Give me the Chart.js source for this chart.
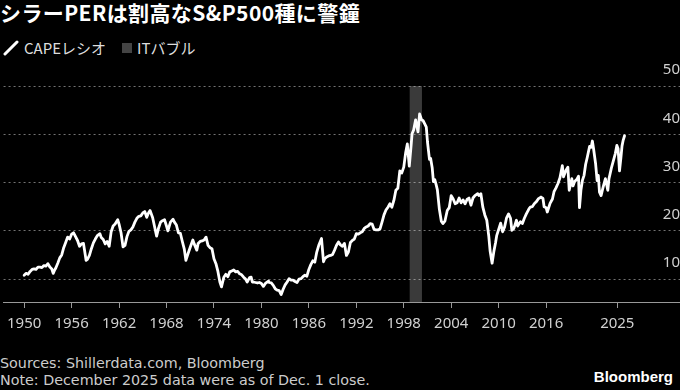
<!DOCTYPE html>
<html>
<head>
<meta charset="utf-8">
<script src="https://cdn.jsdelivr.net/npm/chart.js@4.4.1/dist/chart.umd.min.js"></script>
<style>
  html, body { margin: 0; padding: 0; background: #000; }
  body { width: 680px; height: 390px; overflow: hidden; position: relative; font-family: "Noto Sans CJK JP", "Noto Sans", sans-serif; color: #ddd; }
  #title { position: absolute; left: 0; top: 0px; font-size: 21px; line-height: 24px; letter-spacing: 0.4px; font-weight: bold; color: #fff; white-space: nowrap; }
  #legend { position: absolute; left: 3px; top: 37px; font-size: 15px; color: #ddd; white-space: nowrap; display: flex; align-items: center; }
  .sq { display: inline-block; width: 10px; height: 10px; background: #444; margin-left: 16px; margin-right: 5px; }
  #wrap { position: absolute; left: 0; top: 60px; width: 680px; height: 280px; }
  .foot { position: absolute; left: 0; font-size: 14.3px; line-height: 16px; color: #ccc; white-space: nowrap; font-family: "DejaVu Sans", sans-serif; }
  #logo { position: absolute; right: 7px; top: 368px; font-size: 15px; font-weight: bold; color: #fff; font-family: "Liberation Sans", "Noto Sans", sans-serif; }
</style>
</head>
<body>
<div id="title">シラーPERは割高なS&amp;P500種に警鐘</div>
<div id="legend">
  <svg width="16" height="16" style="margin-right:5px"><line x1="2" y1="14" x2="14" y2="2" stroke="#fff" stroke-width="3" stroke-linecap="round"/></svg>
  <span>CAPEレシオ</span>
  <span class="sq"></span>
  <span>ITバブル</span>
</div>
<div id="wrap"><canvas id="c" width="680" height="280"></canvas></div>
<div class="foot" style="top:355px">Sources: Shillerdata.com, Bloomberg</div>
<div class="foot" style="top:372px">Note: December 2025 data were as of Dec. 1 close.</div>
<div id="logo">Bloomberg</div>
<script>
const years = [
1950.00,1950.25,1950.50,1950.75,1951.00,1951.25,1951.50,1951.75,1952.00,1952.25,1952.50,1952.75,
1953.00,1953.25,1953.50,1953.67,1953.83,1954.00,1954.25,1954.50,1954.75,1955.00,1955.25,1955.50,1955.75,
1956.00,1956.25,1956.50,1956.75,1957.00,1957.25,1957.50,1957.83,1958.00,1958.25,1958.50,1958.75,
1959.00,1959.25,1959.58,1959.75,1960.00,1960.25,1960.50,1960.75,1961.00,1961.25,1961.50,1961.83,
1962.00,1962.25,1962.50,1962.75,1963.00,1963.25,1963.50,1963.75,1964.00,1964.25,1964.50,1964.75,
1965.00,1965.25,1965.50,1965.75,1965.92,1966.25,1966.50,1966.75,1967.00,1967.25,1967.50,1967.75,
1968.00,1968.17,1968.50,1968.83,1969.00,1969.25,1969.50,1969.75,1970.00,1970.25,1970.45,1970.75,
1971.00,1971.33,1971.50,1971.83,1972.00,1972.25,1972.50,1972.75,1973.00,1973.25,1973.50,1973.75,
1974.00,1974.25,1974.50,1974.75,1974.95,1975.25,1975.50,1975.75,1976.00,1976.25,1976.50,1976.75,
1977.00,1977.25,1977.50,1977.75,1978.00,1978.20,1978.50,1978.70,1978.85,1979.00,1979.25,1979.50,1979.75,
1980.00,1980.25,1980.50,1980.90,1981.00,1981.25,1981.50,1981.75,1982.00,1982.25,1982.50,1982.75,
1983.00,1983.25,1983.50,1983.75,1984.00,1984.25,1984.50,1984.75,1985.00,1985.25,1985.50,1985.75,
1986.00,1986.25,1986.50,1986.75,1987.00,1987.25,1987.60,1987.85,1988.00,1988.25,1988.50,1988.75,
1989.00,1989.25,1989.50,1989.75,1990.00,1990.25,1990.50,1990.75,1991.00,1991.25,1991.50,1991.75,
1992.00,1992.25,1992.50,1992.75,1993.00,1993.25,1993.50,1993.75,1994.00,1994.25,1994.50,1994.75,
1995.00,1995.25,1995.50,1995.75,1996.00,1996.25,1996.50,1996.75,1997.00,1997.25,1997.50,1997.75,
1998.00,1998.25,1998.45,1998.70,1998.92,1999.05,1999.25,1999.50,1999.80,2000.00,2000.25,2000.45,2000.70,2000.85,
2001.00,2001.25,2001.40,2001.60,2001.75,2001.92,2002.10,2002.25,2002.50,2002.75,2002.95,2003.20,2003.50,2003.75,
2004.00,2004.25,2004.50,2004.75,2005.00,2005.25,2005.50,2005.75,2006.00,2006.25,2006.50,2006.75,
2007.00,2007.35,2007.50,2007.75,2008.00,2008.25,2008.50,2008.75,2008.92,2009.17,2009.40,2009.60,2009.75,
2010.00,2010.25,2010.50,2010.75,2011.00,2011.25,2011.50,2011.67,2011.92,2012.25,2012.40,2012.75,
2013.00,2013.25,2013.50,2013.85,2014.00,2014.25,2014.50,2014.75,2015.00,2015.35,2015.60,2015.75,
2016.00,2016.15,2016.50,2016.80,2017.00,2017.25,2017.50,2017.75,2018.05,2018.20,2018.50,2018.75,2018.92,
2019.25,2019.40,2019.60,2019.90,2020.10,2020.22,2020.40,2020.60,2020.80,2021.00,2021.20,2021.50,2021.70,2021.85,
2022.00,2022.25,2022.45,2022.60,2022.75,2022.95,2023.20,2023.50,2023.80,2023.95,2024.25,2024.50,2024.75,2024.95,
2025.10,2025.28,2025.45,2025.60,2025.75,2025.92
];
const cape = [
10.8,11.2,11.0,11.6,12.0,12.1,12.0,12.5,12.5,12.4,12.8,12.7,
13.2,12.5,12.1,11.2,11.8,12.3,13.3,14.4,15.0,16.5,17.6,18.7,18.3,
19.3,19.6,18.8,18.0,16.8,17.3,17.4,13.9,14.1,14.9,16.3,17.5,
18.3,19.0,19.4,18.6,18.2,17.3,17.8,16.8,19.8,21.0,21.4,22.3,
21.4,19.6,16.7,17.0,18.8,19.9,20.2,20.8,21.8,22.6,23.0,23.1,
23.7,24.0,22.8,23.8,24.2,22.7,20.8,18.9,20.6,21.8,22.1,22.3,
21.0,20.0,21.8,22.4,21.8,21.2,19.6,19.5,17.8,16.2,13.9,15.4,
16.6,18.1,17.3,16.0,17.4,17.8,17.9,18.1,18.7,17.0,16.5,16.3,
14.2,13.2,11.6,9.4,8.4,10.4,11.0,10.5,11.5,11.7,11.9,11.5,
11.6,11.1,10.9,10.4,10.0,9.4,10.3,10.4,9.4,9.4,9.3,9.2,9.3,
9.1,8.5,9.1,9.6,9.3,9.2,8.7,8.0,7.7,7.6,6.8,7.9,
8.8,9.4,10.1,9.8,9.8,9.5,9.3,10.0,10.1,10.5,10.8,10.6,
12.0,13.0,13.8,13.5,15.6,17.0,18.4,13.6,14.2,14.6,14.8,14.9,
15.1,16.0,17.0,17.7,17.1,16.8,17.4,14.9,15.6,17.6,18.0,18.3,
19.4,19.3,19.6,19.8,20.5,20.8,21.0,21.5,21.4,20.3,20.2,20.2,
20.4,21.8,23.3,24.3,24.9,25.6,24.9,26.3,28.4,28.8,32.4,32.0,
33.2,36.3,38.0,33.4,37.5,40.1,40.9,43.0,40.5,44.2,43.0,42.8,42.0,41.5,
38.4,34.8,35.0,33.0,30.2,30.6,29.5,28.5,24.5,22.0,21.5,22.0,24.2,24.8,
27.3,26.6,25.6,25.8,26.8,25.8,26.4,25.6,26.5,26.8,25.3,26.8,
27.3,27.7,27.3,27.7,24.9,23.3,22.2,18.9,15.8,13.3,15.8,17.5,19.0,
20.3,21.6,19.8,20.8,22.7,23.5,22.6,20.1,20.5,22.2,21.0,21.9,
21.5,22.6,23.5,24.6,24.9,25.0,25.6,26.0,26.6,27.0,26.7,25.0,
24.8,23.9,25.7,26.6,28.1,28.9,29.8,31.0,33.5,31.2,32.5,33.2,28.4,
30.8,29.3,30.2,30.7,31.3,24.8,28.4,30.5,31.5,33.8,35.2,37.5,37.3,38.6,
37.0,34.0,30.4,31.5,28.0,27.3,29.0,30.8,28.4,30.8,33.0,34.5,36.0,37.7,
37.0,32.4,35.0,37.6,38.8,39.7
];
const xTicks = [1950,1956,1962,1968,1974,1980,1986,1992,1998,2004,2010,2016,2025];
const yTicks = [10,20,30,40,50];
const itBubble = [1998.75, 2000.3];

const bandPlugin = {
  id: 'band',
  beforeDraw(chart) {
    const {ctx, scales: {x, y}} = chart;
    const x0 = x.getPixelForValue(itBubble[0]);
    const x1 = x.getPixelForValue(itBubble[1]);
    const top = y.getPixelForValue(yTicks[yTicks.length - 1]);
    ctx.save();
    ctx.fillStyle = '#3a3a3a';
    ctx.fillRect(x0, top, x1 - x0, y.bottom - top);
    ctx.restore();
  }
};

new Chart(document.getElementById('c'), {
  type: 'line',
  data: {
    datasets: [{
      data: years.map((v, i) => ({x: v, y: cape[i]})),
      borderColor: '#ffffff',
      borderWidth: 2.8,
      pointRadius: 0,
      tension: 0,
      borderJoinStyle: 'round',
      borderCapStyle: 'round'
    }]
  },
  options: {
    responsive: false,
    animation: false,
    layout: { padding: { top: 26, left: 0, right: 0, bottom: 0 } },
    plugins: { legend: { display: false }, tooltip: { enabled: false } },
    scales: {
      x: {
        type: 'linear',
        min: 1947.396,
        max: 2032.93,
        afterBuildTicks: s => { s.ticks = xTicks.map(v => ({value: v})); },
        afterFit: s => { s.height = 38; },
        ticks: {
          color: '#d0d0d0',
          font: { family: '"Noto Sans", sans-serif', size: 15 },
          padding: 7,
          maxRotation: 0,
          autoSkip: false,
          callback: v => String(v)
        },
        grid: { drawOnChartArea: false, drawTicks: true, tickLength: 6, color: '#999', tickColor: '#999' },
        border: { display: true, color: '#999', width: 1 }
      },
      y: {
        position: 'right',
        min: 5.26,
        max: 50,
        afterBuildTicks: s => { s.ticks = yTicks.map(v => ({value: v})); },
        afterFit: s => { s.width = 0; },
        ticks: {
          mirror: true,
          labelOffset: -16,
          padding: 0,
          color: '#d0d0d0',
          font: { family: '"Noto Sans", sans-serif', size: 15 }
        },
        grid: { color: 'rgba(255,255,255,0.45)', lineWidth: 1, drawTicks: false },
        border: { display: false, dash: [2, 3] }
      }
    }
  },
  plugins: [bandPlugin]
});
</script>
</body>
</html>
